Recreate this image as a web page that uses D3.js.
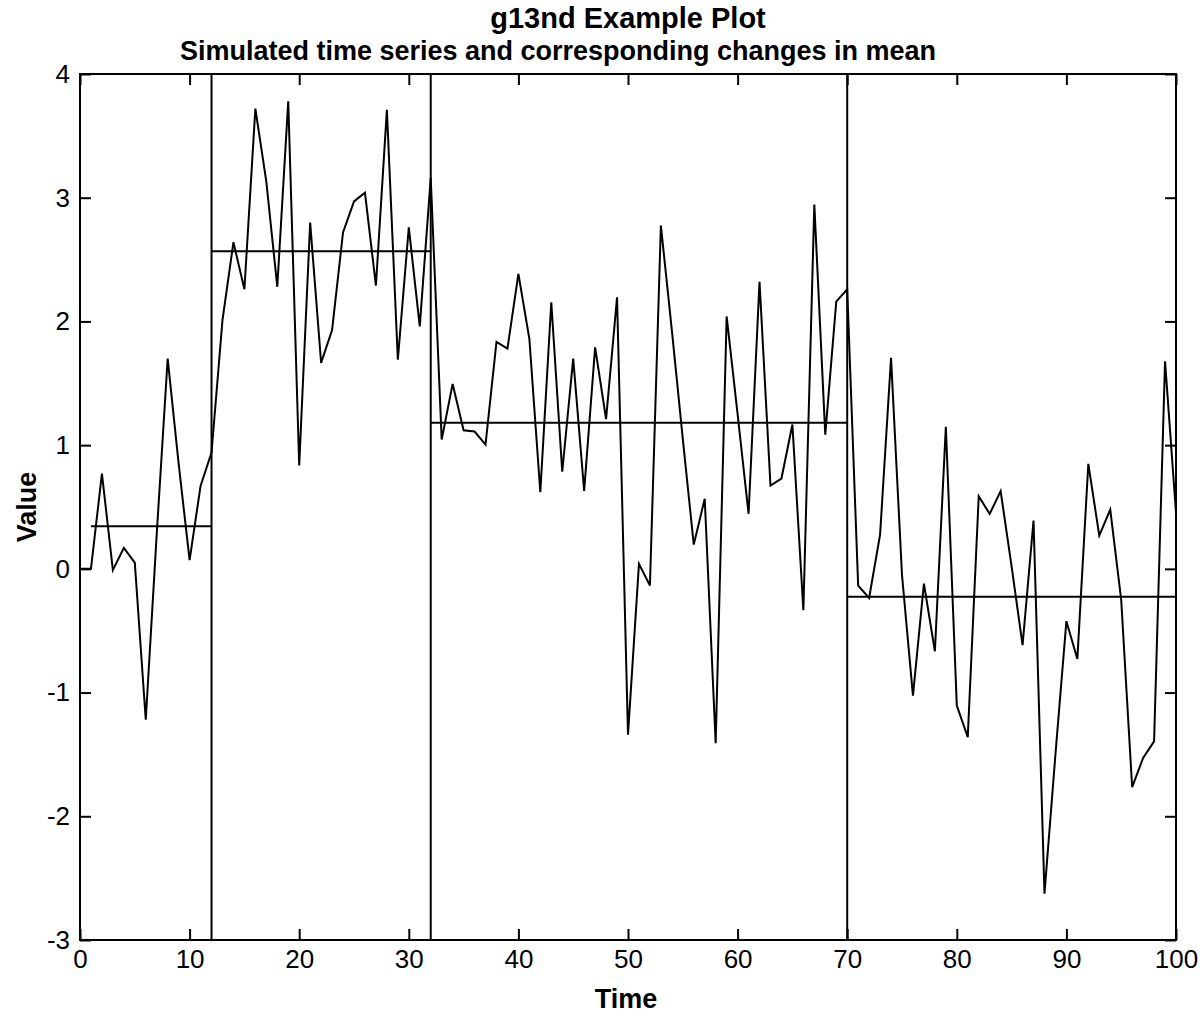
<!DOCTYPE html>
<html>
<head>
<meta charset="utf-8">
<script src="https://cdn.jsdelivr.net/npm/d3@7"></script>
<style>
  body { margin: 0; background: #fff; }
  text { font-family: "Liberation Sans", Arial, sans-serif; }
</style>
</head>
<body>
<div id="chart"></div>
<script>
// simulated series, one value per time step 0..100
const values = [
  0, 0, 0.77, -0.01, 0.17, 0.05, -1.22, 0.28, 1.70, 0.85,
  0.07, 0.67, 0.94, 2.01, 2.64, 2.26, 3.72, 3.13, 2.28, 3.78,
  0.835, 2.80, 1.665, 1.93, 2.72, 2.97, 3.04, 2.29, 3.71, 1.69,
  2.76, 1.96, 3.16, 1.045, 1.495, 1.12, 1.11, 1.005, 1.835, 1.78,
  2.385, 1.86, 0.62, 2.155, 0.785, 1.70, 0.63, 1.79, 1.21, 2.195,
  -1.34, 0.04, -0.135, 2.775, 1.93, 1.05, 0.196, 0.566, -1.41, 2.04,
  1.25, 0.445, 2.32, 0.673, 0.73, 1.167, -0.335, 2.945, 1.085, 2.16,
  2.26, -0.135, -0.235, 0.277, 1.705, -0.05, -1.024, -0.119, -0.666, 1.148,
  -1.105, -1.36, 0.587, 0.444, 0.628, 0.02, -0.617, 0.39, -2.625, -1.5,
  -0.423, -0.728, 0.849, 0.269, 0.479, -0.25, -1.765, -1.528, -1.394, 1.678,
  0.453
];

// change points and segment means
const changePoints = [12, 32, 70];
const segStart = [1, 12, 32, 70];
const segEnd = [12, 32, 70, 100];
const segMean = [0.344, 2.567, 1.18, -0.226];

const xTicks = [0, 10, 20, 30, 40, 50, 60, 70, 80, 90, 100];
const yTicks = [-3, -2, -1, 0, 1, 2, 3, 4];

const width = 1203;
const height = 1016;
const marginLeft = 80;
const marginTop = 74;
const plotW = 1096;
const plotH = 866;

const svg = d3.select('#chart')
    .append('svg')
    .attr('width', width)
    .attr('height', height);

const xScale = d3.scaleLinear().domain([0, 100]).range([marginLeft, marginLeft + plotW]);
const yScale = d3.scaleLinear().domain([-3, 4]).range([marginTop + plotH, marginTop]);

// plain hyphen for negatives, like the original
const fmt = d => String(d);

// axes, ticks pointing inward
function styleAxis(g) {
    g.select('.domain').remove();
    g.selectAll('line').attr('stroke', '#000').attr('stroke-width', 2);
    g.selectAll('text').attr('font-size', 26).attr('fill', '#000');
}

svg.append('g')
    .attr('transform', `translate(0,${marginTop + plotH})`)
    .call(d3.axisBottom(xScale).tickValues(xTicks).tickSizeInner(-11).tickSizeOuter(0).tickPadding(10).tickFormat(fmt))
    .call(styleAxis);

svg.append('g')
    .attr('transform', `translate(0,${marginTop})`)
    .call(d3.axisTop(xScale).tickValues(xTicks).tickSizeInner(-11).tickSizeOuter(0).tickFormat(''))
    .call(styleAxis);

svg.append('g')
    .attr('transform', `translate(${marginLeft},0)`)
    .call(d3.axisLeft(yScale).tickValues(yTicks).tickSizeInner(-11).tickSizeOuter(0).tickPadding(10).tickFormat(fmt))
    .call(styleAxis);

svg.append('g')
    .attr('transform', `translate(${marginLeft + plotW},0)`)
    .call(d3.axisRight(yScale).tickValues(yTicks).tickSizeInner(-11).tickSizeOuter(0).tickFormat(''))
    .call(styleAxis);

// frame
svg.append('rect')
    .attr('x', marginLeft)
    .attr('y', marginTop)
    .attr('width', plotW)
    .attr('height', plotH)
    .attr('fill', 'none')
    .attr('stroke', '#000')
    .attr('stroke-width', 2);

// change point lines
svg.selectAll('.cp')
    .data(changePoints)
    .enter()
    .append('line')
    .attr('class', 'cp')
    .attr('x1', d => xScale(d))
    .attr('x2', d => xScale(d))
    .attr('y1', yScale(-3))
    .attr('y2', yScale(4))
    .attr('stroke', '#000')
    .attr('stroke-width', 2);

// segment means
svg.selectAll('.mean')
    .data(segMean)
    .enter()
    .append('line')
    .attr('class', 'mean')
    .attr('x1', (d, i) => xScale(segStart[i]))
    .attr('x2', (d, i) => xScale(segEnd[i]))
    .attr('y1', d => yScale(d))
    .attr('y2', d => yScale(d))
    .attr('stroke', '#000')
    .attr('stroke-width', 2);

// series
const line = d3.line()
    .x((d, i) => xScale(i))
    .y(d => yScale(d));

svg.append('path')
    .datum(values)
    .attr('d', line)
    .attr('fill', 'none')
    .attr('stroke', '#000')
    .attr('stroke-width', 2)
    .attr('stroke-linejoin', 'miter');

// titles
svg.append('text')
    .attr('x', 628)
    .attr('y', 28)
    .attr('text-anchor', 'middle')
    .attr('font-size', 29)
    .attr('font-weight', 'bold')
    .text('g13nd Example Plot');

svg.append('text')
    .attr('x', 558)
    .attr('y', 60)
    .attr('text-anchor', 'middle')
    .attr('font-size', 27)
    .attr('font-weight', 'bold')
    .text('Simulated time series and corresponding changes in mean');

svg.append('text')
    .attr('x', 626)
    .attr('y', 1008)
    .attr('text-anchor', 'middle')
    .attr('font-size', 27)
    .attr('font-weight', 'bold')
    .text('Time');

svg.append('text')
    .attr('transform', `translate(36,${marginTop + plotH / 2}) rotate(-90)`)
    .attr('text-anchor', 'middle')
    .attr('font-size', 27)
    .attr('font-weight', 'bold')
    .text('Value');
</script>
</body>
</html>
